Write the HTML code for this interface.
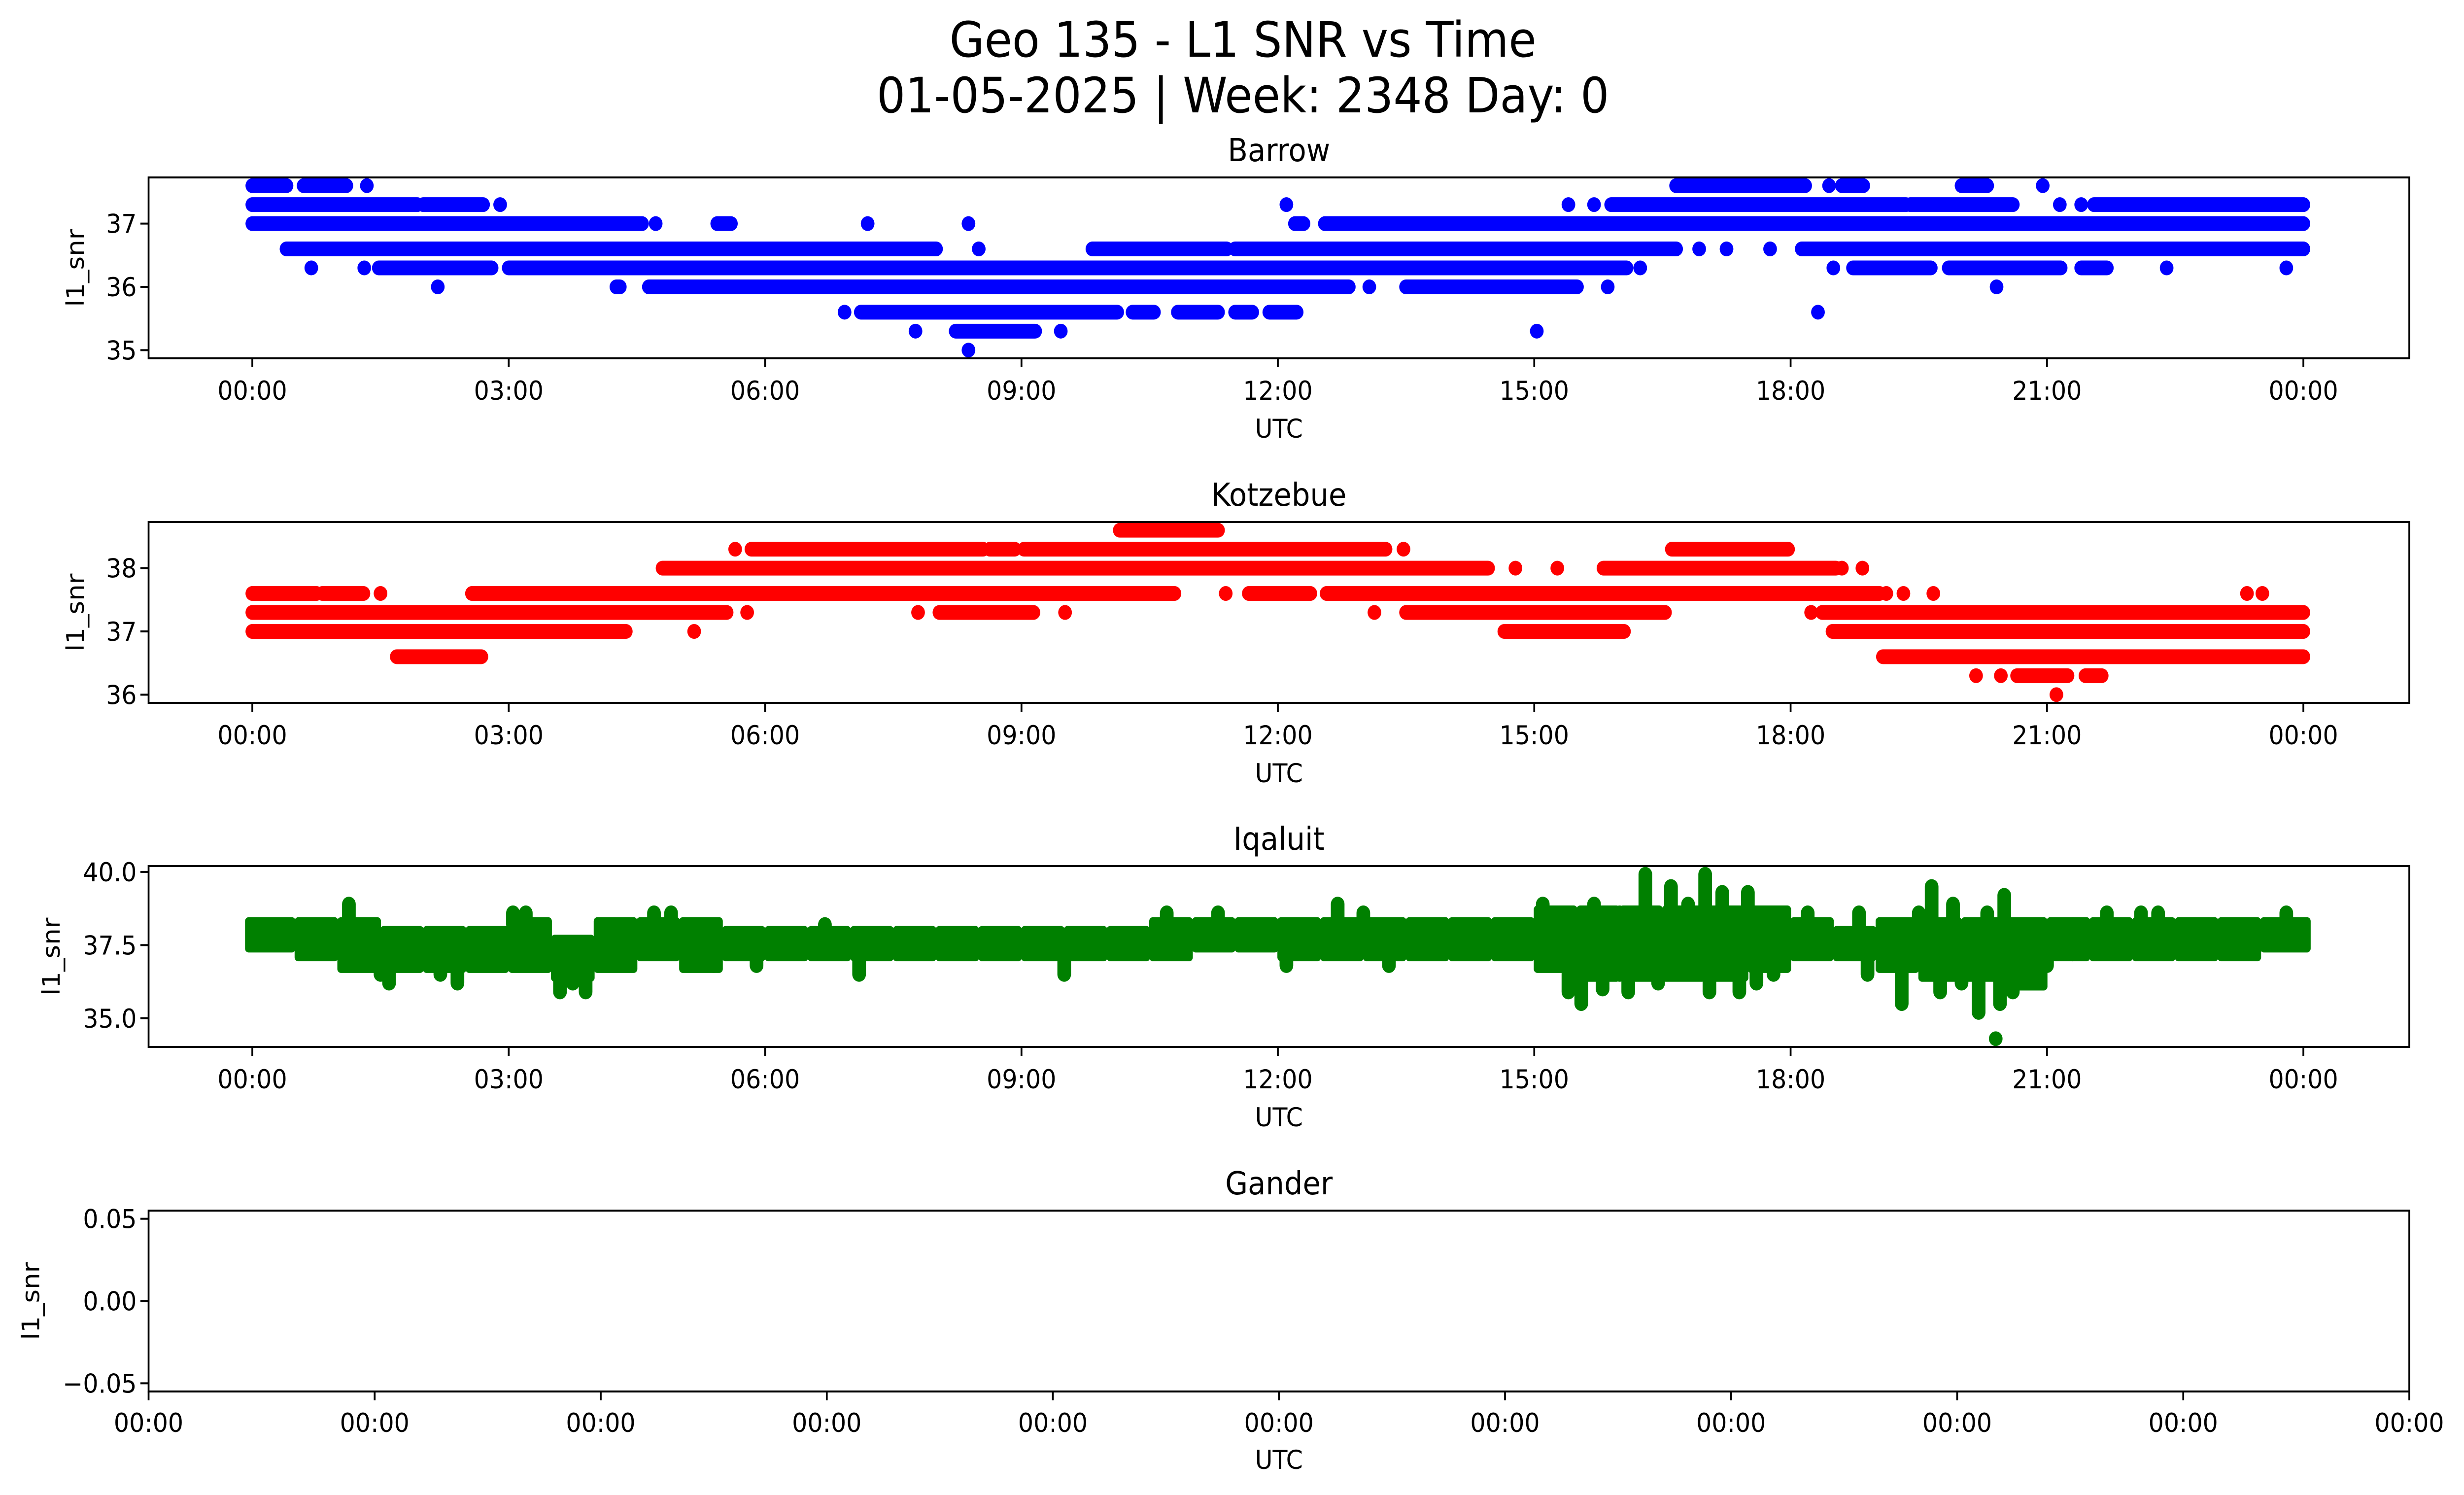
<!DOCTYPE html>
<html><head><meta charset="utf-8"><title>Geo 135 - L1 SNR vs Time</title>
<style>html,body{margin:0;padding:0;background:#fff;overflow:hidden;width:100vw;height:100vh}svg{display:block;width:100vw;height:100vh}text{font-family:"DejaVu Sans","Liberation Sans",sans-serif;fill:#000}</style>
</head><body>
<svg id="fig" xmlns="http://www.w3.org/2000/svg" viewBox="0 0 5406 3033" preserveAspectRatio="none">
<rect width="5406" height="3033" fill="#fff"/>
<text x="2727" y="115" font-size="99" text-anchor="middle">Geo 135 - L1 SNR vs Time</text>
<text x="2727" y="228" font-size="99" text-anchor="middle">01-05-2025 | Week: 2348 Day: 0</text>
<g id="layer"></g>
</svg>
<script>
// ---- Time axis ----
const timeTickHours = [0,3,6,9,12,15,18,21,24];
const timeTickLabels = ["00:00","03:00","06:00","09:00","12:00","15:00","18:00","21:00","00:00"];
const emptyTickLabels = ["00:00","00:00","00:00","00:00","00:00","00:00","00:00","00:00","00:00","00:00","00:00"];

// ---- Barrow (blue) : SNR levels and hour ranges where samples exist ----
const barrowLevels = [37.6,37.3,37.0,36.6,36.3,36.0,35.6,35.3,35.0];
const barrowRanges = [
 [[0,0.4],[0.6,1.1],[1.34,1.34],[16.66,18.17],[18.45,18.45],[18.6,18.85],[20.0,20.3],[20.95,20.95]],
 [[0,1.93],[2.0,2.7],[2.9,2.9],[12.1,12.1],[15.4,15.4],[15.7,15.7],[15.9,19.35],[19.4,20.6],[21.15,21.15],[21.4,21.4],[21.55,24]],
 [[0,4.56],[4.72,4.72],[5.44,5.6],[7.2,7.2],[8.38,8.38],[12.2,12.3],[12.55,24]],
 [[0.4,8.0],[8.5,8.5],[9.83,11.4],[11.5,16.66],[16.93,16.93],[17.25,17.25],[17.76,17.76],[18.13,24]],
 [[0.69,0.69],[1.31,1.31],[1.48,2.8],[3.0,16.08],[16.24,16.24],[18.5,18.5],[18.73,19.64],[19.85,21.16],[21.4,21.7],[22.4,22.4],[23.8,23.8]],
 [[2.17,2.17],[4.26,4.3],[4.64,12.83],[13.07,13.07],[13.5,15.5],[15.86,15.86],[20.41,20.41]],
 [[6.93,6.93],[7.12,10.12],[10.3,10.55],[10.83,11.3],[11.5,11.7],[11.9,12.22],[18.32,18.32]],
 [[7.76,7.76],[8.23,9.16],[9.46,9.46],[15.03,15.03]],
 [[8.38,8.38]]
];

// ---- Kotzebue (red) ----
const kotzLevels = [38.6,38.3,38.0,37.6,37.3,37.0,36.6,36.3,36.0];
const kotzRanges = [
 [[10.15,11.3]],
 [[5.65,5.65],[5.84,8.55],[8.63,8.92],[9.03,13.26],[13.47,13.47],[16.61,17.97]],
 [[4.8,14.46],[14.78,14.78],[15.27,15.27],[15.81,18.53],[18.6,18.6],[18.84,18.84]],
 [[0,0.75],[0.82,1.3],[1.5,1.5],[2.57,10.79],[11.39,11.39],[11.66,12.38],[12.57,19.04],[19.12,19.12],[19.32,19.32],[19.67,19.67],[23.34,23.34],[23.52,23.52]],
 [[0,5.55],[5.79,5.79],[7.79,7.79],[8.04,9.14],[9.51,9.51],[13.13,13.13],[13.5,16.53],[18.24,18.24],[18.37,24]],
 [[0,4.37],[5.17,5.17],[14.65,16.05],[18.49,24]],
 [[1.69,2.68],[19.08,24]],
 [[20.17,20.17],[20.46,20.46],[20.65,21.24],[21.45,21.64]],
 [[21.11,21.11]]
];

// ---- Iqaluit (green): half-hour bins core band, spikes, isolated points ----
const iqBinStart = [0,0.5,1,1.5,2,2.5,3,3.5,4,4.5,5,5.5,6,6.5,7,7.5,8,8.5,9,9.5,10,10.5,11,11.5,12,12.5,13,13.5,14,14.5,15,15.5,16,16.5,17,17.5,18,18.5,19,19.5,20,20.5,21,21.5,22,22.5,23,23.5];
const iqBinHi = [38.2,38.2,38.2,37.9,37.9,37.9,38.2,37.6,38.2,38.2,38.2,37.9,37.9,37.9,37.9,37.9,37.9,37.9,37.9,37.9,37.9,38.2,38.2,38.2,38.2,38.2,38.2,38.2,38.2,38.2,38.6,38.6,38.6,38.6,38.6,38.6,38.2,37.9,38.2,38.2,38.2,38.2,38.2,38.2,38.2,38.2,38.2,38.2];
const iqBinLo = [37.5,37.2,36.8,36.8,36.8,36.8,36.8,36.5,36.8,37.2,36.8,37.2,37.2,37.2,37.2,37.2,37.2,37.2,37.2,37.2,37.2,37.2,37.5,37.5,37.2,37.2,37.2,37.2,37.2,37.2,36.8,36.5,36.5,36.5,36.5,36.8,37.2,37.2,36.8,36.5,36.5,36.2,37.2,37.2,37.2,37.2,37.2,37.5];
const iqSpikeH = [1.13,1.5,1.6,2.2,2.4,3.05,3.2,3.6,3.75,3.9,4.7,4.9,5.4,5.9,6.7,7.1,9.5,10.7,11.3,12.1,12.7,13.0,13.3,15.1,15.4,15.55,15.7,15.8,16.0,16.1,16.3,16.45,16.6,16.8,17.0,17.05,17.2,17.4,17.5,17.6,17.8,18.2,18.8,18.9,19.3,19.5,19.65,19.75,19.9,20.0,20.2,20.3,20.45,20.5,20.6,21.0,21.3,21.7,22.1,22.3,23.8];
const iqSpikeV = [38.9,36.5,36.2,36.5,36.2,38.6,38.6,35.9,36.2,35.9,38.6,38.6,36.8,36.8,38.2,36.5,36.5,38.6,38.6,36.8,38.9,38.6,36.8,38.9,35.9,35.5,38.9,36.0,38.6,35.9,39.92,36.2,39.5,38.9,39.92,35.9,39.3,35.9,39.3,36.2,36.5,38.6,38.6,36.5,35.5,38.6,39.5,35.9,38.9,36.2,35.2,38.6,35.5,39.2,35.9,36.8,38.2,38.6,38.6,38.6,38.6];
const iqPointH = [20.4];
const iqPointV = [34.3];

// ---- Axis ticks ----
const barrowYTicks = [35,36,37];
const kotzYTicks = [36,37,38];
const iqYTicks = [35.0,37.5,40.0];
const iqYTickLabels = ["35.0","37.5","40.0"];
const ganderYTicks = [-0.05,0,0.05];
const ganderYTickLabels = ["\u22120.05","0.00","0.05"];

const NS="http://www.w3.org/2000/svg";
const layer=document.getElementById('layer');
const L=326,R=5286,H=367,tops=[360,1059,1757,2456];
const R_DOT=15;
function xH(h){return 553.6+h*187.5;}
function mk(tag,attrs,parent){const e=document.createElementNS(NS,tag);for(const k in attrs)e.setAttribute(k,attrs[k]);(parent||layer).appendChild(e);return e;}
function yScale(top,lo,hi){const m=(hi-lo)*0.05;const a=lo-m,b=hi+m;return v=>top+H-(v-a)/(b-a)*H;}
function txt(x,y,s,size,anchor,parent){const t=mk('text',{x:x,y:y,'font-size':size,'text-anchor':anchor},parent);t.textContent=s;return t;}

function axesFrame(i,title,yT,yL,yS,ylabX,xticksX,xLabels){
  const top=tops[i],bot=top+H;
  const g=mk('g',{});
  
  
  const t=txt(2806,top-33,title,64,'middle',g);
  
  
  yT.forEach((v,k)=>{const y=yS(v);
    const tk=mk('line',{x1:L-18,x2:L,y1:y,y2:y,stroke:'#000','stroke-width':4},g);
    
    
    const lb=txt(L-26,y+19,yL[k],53,'end',g);
    
    });
  xticksX.forEach((x,k)=>{
    const tk=mk('line',{x1:x,x2:x,y1:bot,y2:bot+18,stroke:'#000','stroke-width':4},g);
    
    
    const lb=txt(x,bot+(i==3?82:84),xLabels[k],53,'middle',g);
    
    });
  const xl=txt(2806,bot+(i==3?157:161),'UTC',53,'middle',g);
  
  
  const yl=txt(0,0,'l1_snr',53,'middle',g);
  yl.setAttribute('transform','translate('+(ylabX+19)+','+(top+H/2)+') rotate(-90)');
  
  
  return g;
}
function frameRect(i,g){const f=mk('rect',{x:L,y:tops[i],width:R-L,height:H,fill:'none',stroke:'#000','stroke-width':4},g);
  
  }

function levelPanel(i,title,levels,ranges,color,yT){
  let lo=Infinity,hi=-Infinity;levels.forEach((v,k)=>{if(ranges[k].length){lo=Math.min(lo,v);hi=Math.max(hi,v);}});
  const yS=yScale(tops[i],lo,hi);
  const g=axesFrame(i,title,yT,yT.map(String),yS,165,timeTickHours.map(xH),timeTickLabels);
  const sg=mk('g',{fill:color},g);
  
  
  levels.forEach((v,k)=>{ranges[k].forEach(r=>{
    const x1=xH(r[0])-R_DOT,x2=xH(r[1])+R_DOT,y=yS(v);
    const c=mk('rect',{x:x1,y:y-R_DOT,width:x2-x1,height:2*R_DOT,rx:R_DOT,ry:R_DOT},sg);
    
    });});
  frameRect(i,g);
}
levelPanel(0,'Barrow',barrowLevels,barrowRanges,'#0000ff',barrowYTicks);
levelPanel(1,'Kotzebue',kotzLevels,kotzRanges,'#ff0000',kotzYTicks);

// Iqaluit
(function(){
  const all=iqBinHi.concat(iqBinLo,iqSpikeV,iqPointV);
  const yS=yScale(tops[2],Math.min(...all),Math.max(...all));
  const g=axesFrame(2,'Iqaluit',iqYTicks,iqYTickLabels,yS,112,timeTickHours.map(xH),timeTickLabels);
  const sg=mk('g',{fill:'#008000'},g);
  
  
  const n=iqBinStart.length;
  iqBinStart.forEach((h,k)=>{
    let x1=xH(h),x2=xH(k<n-1?iqBinStart[k+1]:24);
    if(k===0)x1-=R_DOT; if(k===n-1)x2+=R_DOT;
    const c=mk('rect',{x:x1-1,y:yS(iqBinHi[k])-R_DOT,width:x2-x1+2,height:yS(iqBinLo[k])-yS(iqBinHi[k])+2*R_DOT,rx:8,ry:8},sg);
    
    });
  iqSpikeH.forEach((h,k)=>{
    const b=Math.min(n-1,Math.floor(h/0.5)),v=iqSpikeV[k];
    const a=v>iqBinHi[b]?iqBinHi[b]:iqBinLo[b];
    const yA=Math.min(yS(a),yS(v))-R_DOT,yB=Math.max(yS(a),yS(v))+R_DOT;
    const c=mk('rect',{x:xH(h)-R_DOT,y:yA,width:2*R_DOT,height:yB-yA,rx:R_DOT,ry:R_DOT},sg);
    
    });
  iqPointH.forEach((h,k)=>{
    const c=mk('circle',{cx:xH(h),cy:yS(iqPointV[k]),r:R_DOT},sg);
    
    });
  frameRect(2,g);
})();

// Gander (empty)
(function(){
  const yS=yScale(tops[3],-0.05,0.05);
  const xs=emptyTickLabels.map((s,k)=>L+k*(R-L)/(emptyTickLabels.length-1));
  const g=axesFrame(3,'Gander',ganderYTicks,ganderYTickLabels,yS,67,xs,emptyTickLabels);
  frameRect(3,g);
})();
</script>
</body></html>
